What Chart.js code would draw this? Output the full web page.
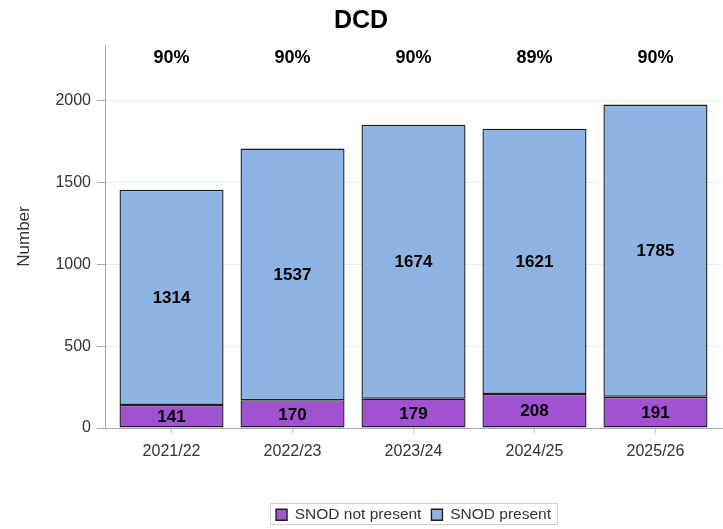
<!DOCTYPE html>
<html><head><meta charset="utf-8">
<script src="https://cdn.jsdelivr.net/npm/chart.js@4/dist/chart.umd.min.js"></script>
<style>html,body{margin:0;padding:0;background:#fff}</style>
</head><body>
<canvas id="c" width="723" height="529" style="display:block;width:723px;height:529px"></canvas>
<script>
const categories = ['2021/22', '2022/23', '2023/24', '2024/25', '2025/26'];
const snodNotPresent = [141, 170, 179, 208, 191];
const snodPresent = [1314, 1537, 1674, 1621, 1785];
const percentLabels = ['90%', '90%', '90%', '89%', '90%'];
const yTickValues = [0, 500, 1000, 1500, 2000];

const FONT = '"Liberation Sans", Arial, sans-serif';
Chart.defaults.font.family = FONT;
Chart.defaults.color = '#333';

const PLOT_LEFT = 105, PLOT_BOTTOM = 428;

const valueLabels = {
  id: 'valueLabels',
  afterDatasetsDraw(chart) {
    const ctx = chart.ctx;
    ctx.save();
    ctx.fillStyle = '#000';
    ctx.textAlign = 'center';
    ctx.textBaseline = 'middle';
    ctx.font = 'bold 17px ' + FONT;
    chart.data.datasets.forEach((ds, di) => {
      chart.getDatasetMeta(di).data.forEach((el, i) => {
        const p = el.getProps(['x', 'y', 'base'], true);
        ctx.fillText(String(ds.data[i].y), p.x, (p.y + p.base) / 2 + 1);
      });
    });
    ctx.font = 'bold 18px ' + FONT;
    chart.getDatasetMeta(0).data.forEach((el, i) => {
      ctx.fillText(percentLabels[i], el.x, chart.chartArea.top + 13);
    });
    ctx.restore();
  }
};

const legendPlace = {
  id: 'legendPlace',
  afterLayout(chart) {
    const lg = chart.legend;
    const pad = lg.options.labels.padding;
    const h = lg.height;
    lg.left = chart.chartArea.left;
    lg.right = chart.chartArea.right;
    lg.top = 507 - pad;
    lg.bottom = lg.top + h;
  },
  afterDraw(chart) {
    const hb = chart.legend.legendHitBoxes;
    if (!hb || !hb.length) return;
    let l = Infinity, r = -Infinity, t = Infinity;
    hb.forEach(b => { l = Math.min(l, b.left); r = Math.max(r, b.left + b.width); t = Math.min(t, b.top); });
    const ctx = chart.ctx;
    ctx.save();
    ctx.strokeStyle = '#d0d0d0';
    ctx.lineWidth = 1;
    ctx.strokeRect(Math.round(l - 6) + 0.5, Math.round(t - 4) + 0.5, Math.round(r - l + 12), 21);
    ctx.restore();
  }
};

const datasetsDef = [
  { label: 'SNOD not present', values: snodNotPresent, color: '#A052D0' },
  { label: 'SNOD present', values: snodPresent, color: '#8EB4E3' }
];

new Chart(document.getElementById('c'), {
  type: 'bar',
  data: {
    datasets: datasetsDef.map(d => ({
      label: d.label,
      data: d.values.map((v, i) => ({ x: i, y: v })),
      backgroundColor: d.color,
      borderColor: '#1e1e1e',
      borderWidth: 1.4,
      borderSkipped: false,
      categoryPercentage: 1,
      barPercentage: 0.86
    }))
  },
  options: {
    responsive: false,
    animation: false,
    layout: { padding: { left: 0, right: 1, top: 0, bottom: 0 } },
    plugins: {
      tooltip: { enabled: false },
      title: {
        display: true, text: 'DCD', color: '#000',
        font: { size: 25, weight: 'bold' },
        padding: { top: 6, bottom: 9 }
      },
      legend: {
        position: 'bottom',
        labels: { boxWidth: 11, boxHeight: 11, padding: 10, color: '#333', font: { size: 15.5 } }
      }
    },
    scales: {
      x: {
        type: 'linear', stacked: true, min: -0.55, max: 4.55, offset: false,
        afterBuildTicks(s) { s.ticks = categories.map((c, i) => ({ value: i })); },
        afterFit(s) { s.height = s.chart.height - PLOT_BOTTOM - s.chart.legend.height; },
        ticks: { callback: (v) => categories[v], color: '#333', font: { size: 16 }, padding: 8, maxRotation: 0, autoSkip: false },
        grid: { offset: false, drawOnChartArea: false, drawTicks: true, tickLength: 6, tickColor: '#c8c8c8' },
        border: { display: true, color: '#a8a8a8' }
      },
      y: {
        stacked: true, min: 0, max: 2340,
        afterBuildTicks(s) { s.ticks = yTickValues.map(v => ({ value: v })); },
        afterFit(s) { s.width = PLOT_LEFT; },
        ticks: { callback: (v) => String(v), color: '#333', font: { size: 16 }, padding: 6 },
        grid: { color: '#ebebeb', tickColor: '#a8a8a8', tickLength: 8 },
        border: { display: true, color: '#a8a8a8' },
        title: { display: true, text: 'Number', color: '#333', font: { size: 17 }, padding: { top: 14, bottom: 0 } }
      }
    }
  },
  plugins: [valueLabels, legendPlace]
});
</script>
</body></html>
